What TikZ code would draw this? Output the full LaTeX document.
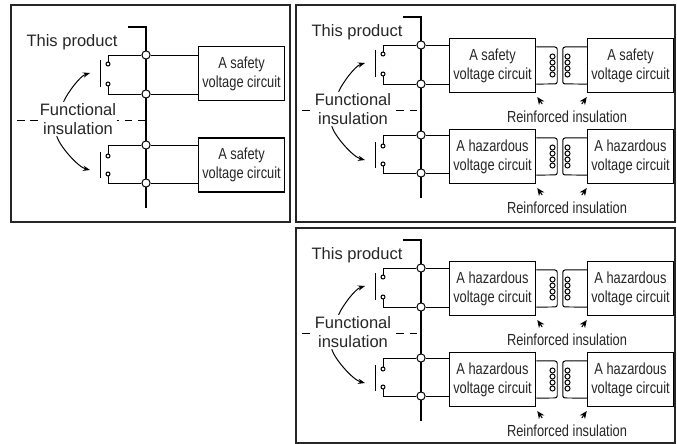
\documentclass[tikz,border=0pt]{standalone}
\usepackage{fontspec}
\setmainfont{Liberation Sans}
\newfontfamily\narrowfont[FakeStretch=0.8]{Liberation Sans}
\usetikzlibrary{arrows.meta}
\tikzset{
	junction/.style={
		inner sep = 0pt,
		minimum size = 7pt,
		shape = circle,
		draw,
		fill = white
	},
	contact/.style={
		inner sep = 0pt,
		minimum size = 3.4pt,
		shape = circle,
		draw,
		fill = white
	},
	circuit/.style={
		draw,
		line width = 1pt,
		minimum width = 72.5pt,
		minimum height = 46pt,
		align = center,
		font = \narrowfont\fontsize{13.7}{16.2}\selectfont
	},
	remark/.style={
		font = \narrowfont\fontsize{13.7}{16.2}\selectfont
	},
	pointer/.style={-{Stealth[length=6.5pt, width=5.5pt]}},
	bus/.style={line width = 2.5pt},
	panel/.style={line width = 1.2pt, draw = black!85},
	boundary/.style={dash pattern = on 6.5pt off 5pt},
}
\tikzset{>={Stealth[length=6pt, width=4.5pt]}}

\begin{document}
\begin{tikzpicture}[x=0.3mm, y=-0.3mm, line width=0.85pt, text=black!85,
    font=\fontsize{14.1}{16.2}\selectfont]
  \useasboundingbox (0,0) rectangle (677,444);
  \draw[panel] (11,5) rectangle (290,222);
  \draw[panel] (296,5) rectangle (675,222);
  \draw[panel] (296,228) rectangle (675,443);

  % this product: bus, switches and labels
  \foreach \p/\dx/\dy/\tx/\dl in {a/-275/10/347/292, b/0/0/357/302, c/0/223/357/302}{
    \begin{scope}[shift={(\dx,\dy)}]
      \draw[bus] (403,17) -| (421,198);
      \foreach \n/\y in {1/45, 2/84, 3/135, 4/173}
        \node[junction] (\p j\n) at (421,\y) {};
      \foreach \n/\y in {1/54, 2/74, 3/146, 4/164}
        \node[contact] (\p c\n) at (383,\y) {};
      \draw (\p j1) -| (\p c1);
      \draw (\p c2) |- (\p j2);
      \draw (\p j3) -| (\p c3);
      \draw (\p c4) |- (\p j4);
      \draw (375,50) -- (375,77);
      \draw (375,142) -- (375,168);
      \node (\p prod) at (\tx,32) {This product};
      \draw[boundary] (\dl,110) -- (421,110);
      \node[fill=white, align=center, inner sep=1pt] (\p func) at (353,109) {Functional\\insulation};
      \coordinate (\p s1) at (365,63);
      \coordinate (\p s2) at (365,160);
      \draw[->] (\p func.130) .. controls +(4,-9) and +(-10,3) .. (\p s1);
      \draw[->] (\p func.219) .. controls +(3,10) and +(-12,-3) .. (\p s2);
    \end{scope}
  }

  % first panel: two safety circuits
  \node[circuit] (a1) at (241.5,73.5) {A safety\\voltage circuit};
  \node[circuit] (a2) at (241.5,165) {A safety\\voltage circuit};
  \draw (aj1) -- (aj1 -| a1.west);
  \draw (aj2) -- (aj2 -| a1.west);
  \draw (aj3) -- (aj3 -| a2.west);
  \draw (aj4) -- (aj4 -| a2.west);

  % other panels: circuits coupled by transformers
  \foreach \p/\dy/\up in {b/0/safety, c/223/hazardous}{
    \begin{scope}[shift={(0,\dy)}]
      \foreach \rw/\cy/\kind/\ja/\jb in {u/65.5/\up/1/2, l/156.5/hazardous/3/4}{
        \node[circuit] (\p\rw L) at (492.5,\cy) {A \kind\\voltage circuit};
        \node[circuit] (\p\rw R) at (630.5,\cy) {A \kind\\voltage circuit};
        \draw (\p j\ja) -- (\p j\ja -| \p\rw L.west);
        \draw (\p j\jb) -- (\p j\jb -| \p\rw L.west);
        % coils
        \draw[rounded corners=2pt] ([yshift=15.8pt]\p\rw L.east) -- ++(21,0) -- ++(0,37) -- ([yshift=-15.8pt]\p\rw L.east);
        \draw[rounded corners=2pt] ([yshift=15.8pt]\p\rw R.west) -- ++(-24,0) -- ++(0,37) -- ([yshift=-15.8pt]\p\rw R.west);
        \foreach \m in {0,...,3}{
          \draw (552.5,\cy-9+6*\m) circle[radius=2.5];
          \draw (567.5,\cy-9+6*\m) circle[radius=2.5];
        }
        \node[remark] (\p\rw ri) at (567,\cy+51.5) {Reinforced insulation};
        \draw[pointer] ([shift={(6,11)}]\p\rw L.south east) -- ([shift={(1,4)}]\p\rw L.south east);
        \draw[pointer] ([shift={(-5,11)}]\p\rw R.south west) -- ([shift={(0,4)}]\p\rw R.south west);
      }
    \end{scope}
  }
\end{tikzpicture}
\end{document}
